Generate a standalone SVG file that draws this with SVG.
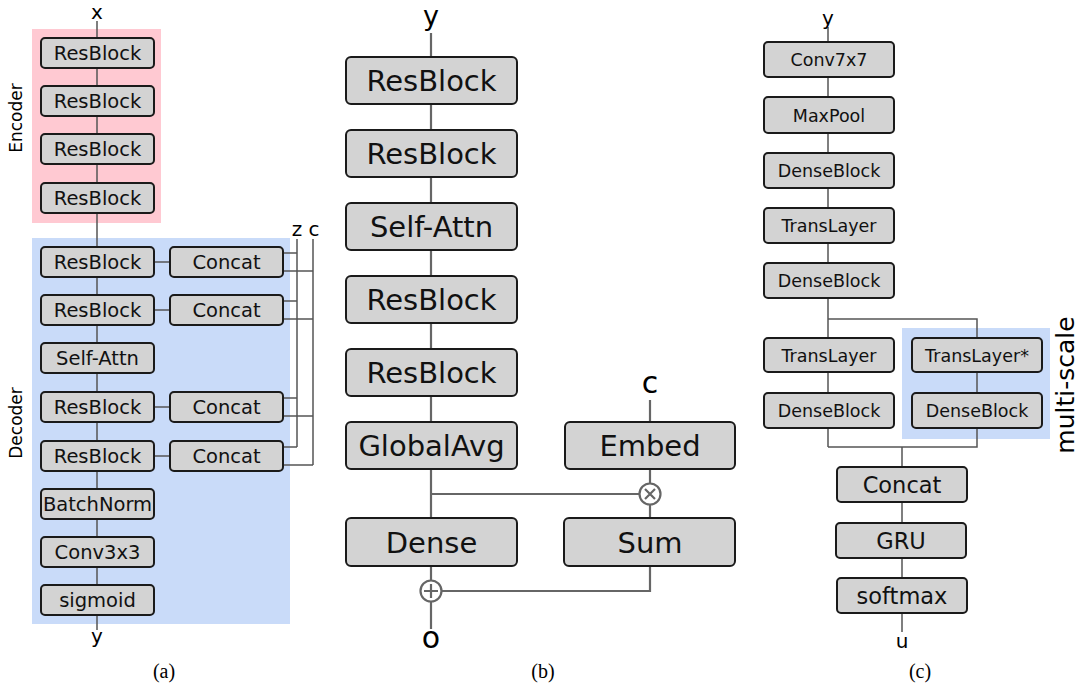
<svg xmlns="http://www.w3.org/2000/svg" width="1081" height="685" viewBox="0 0 1081 685">
<style>
  .box { fill: #d3d3d3; stroke: #1a1a1a; stroke-width: 2; }
  .t { font-family: "DejaVu Sans", sans-serif; fill: #111; text-anchor: middle; }
  .ta { font-size: 19.5px; }
  .tb { font-size: 29px; }
  .tc { font-size: 17.5px; }
  .tc2 { font-size: 22.5px; }
  .lbl { font-family: "DejaVu Sans", sans-serif; fill: #000; text-anchor: middle; }
  .cap { font-family: "Liberation Serif", serif; font-size: 20px; fill: #000; text-anchor: middle; }
  .la { fill: none; stroke: #555; stroke-width: 1.5; }
  .lb { fill: none; stroke: #666; stroke-width: 2.2; }
  .op { fill: #fff; stroke: #666; stroke-width: 2.2; }
</style>

<!-- backgrounds -->
<g id="backgrounds">
  <rect x="32" y="29" width="129" height="194" fill="#ffc9d2"/>
  <rect x="32" y="238" width="258" height="386" fill="#c9dbf9"/>
  <rect x="902" y="328" width="148" height="111" fill="#c9dbf9"/>
</g>

<!-- connectors -->
<g id="connectors">
  <!-- panel a -->
  <line class="la" x1="97" y1="21" x2="97" y2="630"/>
  <line class="la" x1="154" y1="262" x2="170" y2="262"/>
  <line class="la" x1="154" y1="310" x2="170" y2="310"/>
  <line class="la" x1="154" y1="407" x2="170" y2="407"/>
  <line class="la" x1="154" y1="456" x2="170" y2="456"/>
  <path class="la" d="M297 239 V447 M283 253 H297 M283 301 H297 M283 398 H297 M283 447 H297"/>
  <path class="la" d="M313 239 V465 M283 271 H313 M283 319 H313 M283 416 H313 M283 465 H313"/>
  <!-- panel b -->
  <line class="lb" x1="431" y1="33" x2="431" y2="629"/>
  <line class="lb" x1="431" y1="494" x2="639" y2="494"/>
  <line class="lb" x1="650" y1="400" x2="650" y2="566"/>
  <path class="lb" d="M650 566 V591 H442"/>
  <!-- panel c -->
  <line class="la" x1="828" y1="27" x2="828" y2="447"/>
  <path class="la" d="M828 319 H977 V447 H828"/>
  <line class="la" x1="902" y1="447" x2="902" y2="632"/>
</g>

<!-- panel a labels -->
<g id="labels-a">
  <text class="lbl" x="97" y="19" font-size="20">x</text>
  <text class="lbl" x="97" y="643" font-size="20">y</text>
  <text class="lbl" x="297" y="236" font-size="20">z</text>
  <text class="lbl" x="314" y="236" font-size="20">c</text>
  <text class="lbl" font-size="17" transform="translate(22,118) rotate(-90)">Encoder</text>
  <text class="lbl" font-size="17" transform="translate(22,423) rotate(-90)">Decoder</text>
  <text class="cap" x="164" y="678">(a)</text>
</g>

<g id="a-enc1"><rect class="box" x="41" y="38" width="113" height="30" rx="4"/><text class="t ta" x="97.5" y="60">ResBlock</text></g>
<g id="a-enc2"><rect class="box" x="41" y="86" width="113" height="30" rx="4"/><text class="t ta" x="97.5" y="108">ResBlock</text></g>
<g id="a-enc3"><rect class="box" x="41" y="134" width="113" height="30" rx="4"/><text class="t ta" x="97.5" y="156">ResBlock</text></g>
<g id="a-enc4"><rect class="box" x="41" y="183" width="113" height="30" rx="4"/><text class="t ta" x="97.5" y="205">ResBlock</text></g>

<g id="a-dec1"><rect class="box" x="41" y="247" width="113" height="30" rx="4"/><text class="t ta" x="97.5" y="269">ResBlock</text></g>
<g id="a-cat1"><rect class="box" x="170" y="247" width="113" height="30" rx="4"/><text class="t ta" x="226.5" y="269">Concat</text></g>
<g id="a-dec2"><rect class="box" x="41" y="295" width="113" height="30" rx="4"/><text class="t ta" x="97.5" y="317">ResBlock</text></g>
<g id="a-cat2"><rect class="box" x="170" y="295" width="113" height="30" rx="4"/><text class="t ta" x="226.5" y="317">Concat</text></g>
<g id="a-attn"><rect class="box" x="41" y="343" width="113" height="30" rx="4"/><text class="t ta" x="97.5" y="365">Self-Attn</text></g>
<g id="a-dec3"><rect class="box" x="41" y="392" width="113" height="30" rx="4"/><text class="t ta" x="97.5" y="414">ResBlock</text></g>
<g id="a-cat3"><rect class="box" x="170" y="392" width="113" height="30" rx="4"/><text class="t ta" x="226.5" y="414">Concat</text></g>
<g id="a-dec4"><rect class="box" x="41" y="441" width="113" height="30" rx="4"/><text class="t ta" x="97.5" y="463">ResBlock</text></g>
<g id="a-cat4"><rect class="box" x="170" y="441" width="113" height="30" rx="4"/><text class="t ta" x="226.5" y="463">Concat</text></g>
<g id="a-bn"><rect class="box" x="41" y="489" width="113" height="30" rx="4"/><text class="t ta" x="97.5" y="511">BatchNorm</text></g>
<g id="a-conv"><rect class="box" x="41" y="537" width="113" height="30" rx="4"/><text class="t ta" x="97.5" y="559">Conv3x3</text></g>
<g id="a-sig"><rect class="box" x="41" y="585" width="113" height="30" rx="4"/><text class="t ta" x="97.5" y="607">sigmoid</text></g>

<!-- panel b -->
<g id="labels-b">
  <text class="lbl" x="431" y="25" font-size="27">y</text>
  <text class="lbl" x="650" y="393" font-size="30">c</text>
  <text class="lbl" x="431" y="648" font-size="30">o</text>
  <text class="cap" x="543" y="678">(b)</text>
</g>
<g id="b-res1"><rect class="box" x="346" y="57" width="171" height="47" rx="5"/><text class="t tb" x="431.5" y="91">ResBlock</text></g>
<g id="b-res2"><rect class="box" x="346" y="130" width="171" height="47" rx="5"/><text class="t tb" x="431.5" y="164">ResBlock</text></g>
<g id="b-attn"><rect class="box" x="346" y="203" width="171" height="47" rx="5"/><text class="t tb" x="431.5" y="237">Self-Attn</text></g>
<g id="b-res3"><rect class="box" x="346" y="276" width="171" height="47" rx="5"/><text class="t tb" x="431.5" y="310">ResBlock</text></g>
<g id="b-res4"><rect class="box" x="346" y="349" width="171" height="47" rx="5"/><text class="t tb" x="431.5" y="383">ResBlock</text></g>
<g id="b-gavg"><rect class="box" x="346" y="422" width="171" height="47" rx="5"/><text class="t tb" x="431.5" y="456">GlobalAvg</text></g>
<g id="b-embed"><rect class="box" x="565" y="422" width="170" height="47" rx="5"/><text class="t tb" x="650" y="456">Embed</text></g>
<g id="b-dense"><rect class="box" x="346" y="518" width="171" height="48" rx="5"/><text class="t tb" x="431.5" y="553">Dense</text></g>
<g id="b-sum"><rect class="box" x="564" y="518" width="171" height="48" rx="5"/><text class="t tb" x="650" y="553">Sum</text></g>
<g id="b-mul">
  <circle class="op" cx="650" cy="494" r="10.5"/>
  <path class="lb" d="M645 489 L655 499 M655 489 L645 499"/>
</g>
<g id="b-add">
  <circle class="op" cx="431" cy="591" r="10.5"/>
  <path class="lb" d="M424 591 H438 M431 584 V598"/>
</g>

<!-- panel c -->
<g id="labels-c">
  <text class="lbl" x="828" y="25" font-size="20">y</text>
  <text class="lbl" x="902" y="648" font-size="20">u</text>
  <text class="lbl" font-size="25" transform="translate(1074,385) rotate(-90)">multi-scale</text>
  <text class="cap" x="920" y="678">(c)</text>
</g>
<g id="c-conv"><rect class="box" x="764" y="42" width="130" height="35" rx="4"/><text class="t tc" x="829" y="66">Conv7x7</text></g>
<g id="c-pool"><rect class="box" x="764" y="97" width="130" height="36" rx="4"/><text class="t tc" x="829" y="121.5">MaxPool</text></g>
<g id="c-db1"><rect class="box" x="764" y="153" width="130" height="35" rx="4"/><text class="t tc" x="829" y="177">DenseBlock</text></g>
<g id="c-tl1"><rect class="box" x="764" y="208" width="130" height="35" rx="4"/><text class="t tc" x="829" y="232">TransLayer</text></g>
<g id="c-db2"><rect class="box" x="764" y="263" width="130" height="35" rx="4"/><text class="t tc" x="829" y="287">DenseBlock</text></g>
<g id="c-tl2"><rect class="box" x="764" y="338" width="130" height="34" rx="4"/><text class="t tc" x="829" y="361.5">TransLayer</text></g>
<g id="c-db3"><rect class="box" x="764" y="393" width="130" height="35" rx="4"/><text class="t tc" x="829" y="417">DenseBlock</text></g>
<g id="c-tl3"><rect class="box" x="912" y="338" width="130" height="34" rx="4"/><text class="t tc" x="977" y="361.5">TransLayer*</text></g>
<g id="c-db4"><rect class="box" x="912" y="393" width="130" height="35" rx="4"/><text class="t tc" x="977" y="417">DenseBlock</text></g>
<g id="c-cat"><rect class="box" x="837" y="467" width="130" height="35" rx="4"/><text class="t tc2" x="902" y="492.5">Concat</text></g>
<g id="c-gru"><rect class="box" x="836" y="523" width="130" height="35" rx="4"/><text class="t tc2" x="901" y="548.5">GRU</text></g>
<g id="c-soft"><rect class="box" x="837" y="578" width="130" height="35" rx="4"/><text class="t tc2" x="902" y="603.5">softmax</text></g>
</svg>
